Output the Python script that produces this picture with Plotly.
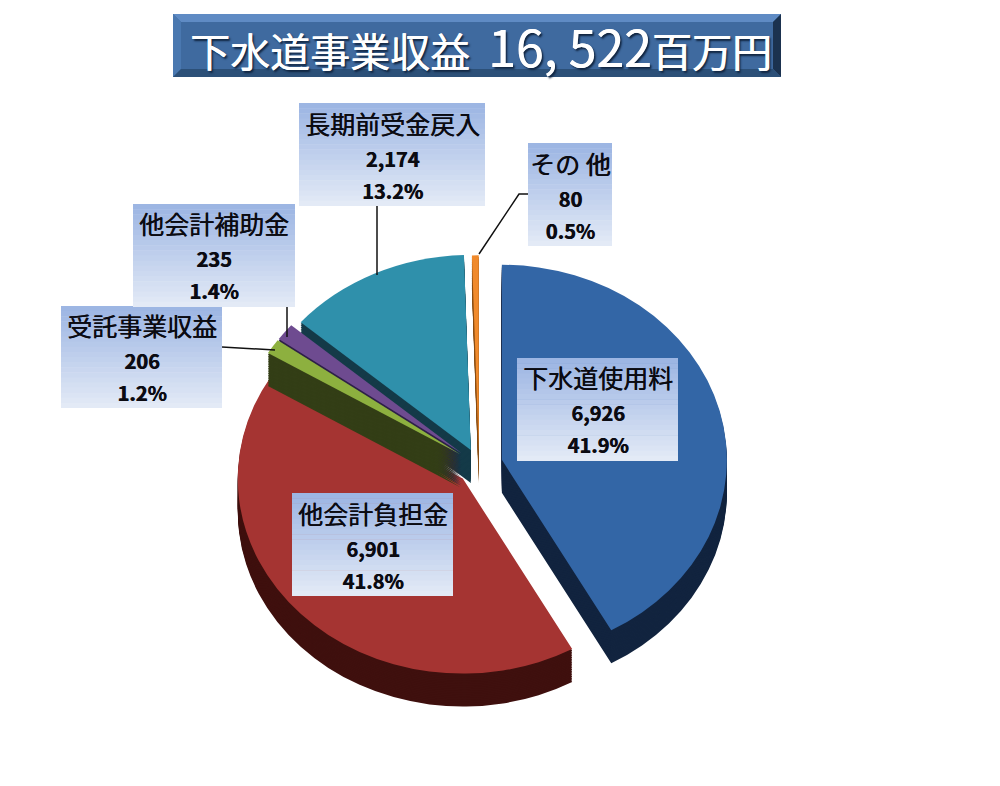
import plotly.graph_objects as go

# datos
nombres = ['下水道使用料', '他会計負担金', '受託事業収益', '他会計補助金', '長期前受金戻入', 'その 他']
valores = [6926, 6901, 206, 235, 2174, 80]
etiquetas_valor = ['6,926', '6,901', '206', '235', '2,174', '80']
porcentajes = ['41.9%', '41.8%', '1.2%', '1.4%', '13.2%', '0.5%']
titulo = '下水道事業収益\u00a0\u00a0<span style="font-size:50px">16, 522</span>百万円'

# estilo
colores = ['#3366A6', '#A53432', '#8DB03F', '#6E4B90', '#2F90AB', '#F08A2C']
colores_lado = ['#12243F', '#3F100E', '#333E16', '#2E2048', '#143A48', '#8A4F16']
pull = [0.105, 0.10, 0.10, 0.10, 0.085, 0.075]
orden = [1, 4, 3, 2, 5, 0]  # de atras hacia adelante
cajas = [(517, 358, 678, 461), (292, 493, 453, 596), (61, 306, 222, 408),
         (133, 204, 295, 307), (299, 103, 485, 206), (528, 143, 612, 246)]
lineas = [[(222, 347), (275, 350)], [(287, 307), (287, 337)], [(377, 206), (377, 275)],
          [(528, 194), (519, 194), (479, 254)]]
bisel = [([(173, 14), (781, 14), (773, 22), (181, 22)], '#5F8BC4'),
         ([(173, 14), (181, 22), (181, 69), (173, 77)], '#4A78B0'),
         ([(781, 14), (781, 77), (773, 69), (773, 22)], '#1B324F'),
         ([(173, 77), (781, 77), (773, 69), (181, 69)], '#2C5078')]

W, H = 1000, 786
CX, CY, R = 479, 465, 225
ESCALA_Y = 0.867
FUENTE = 'Noto Sans CJK JP'


def px(x):
    return x / W


def py(y):
    return 1 - y / H


def ruta(puntos, cerrar=False):
    texto = 'M ' + ' L '.join('%.4f %.4f' % (px(a), py(b)) for a, b in puntos)
    return texto + ' Z' if cerrar else texto


def mezcla(c1, c2, t):
    a = [int(c1[i:i + 2], 16) for i in (1, 3, 5)]
    b = [int(c2[i:i + 2], 16) for i in (1, 3, 5)]
    return 'rgb(%d,%d,%d)' % tuple(a[i] + (b[i] - a[i]) * t for i in range(3))


def rect(x0, y0, x1, y1, color):
    return dict(type='rect', xref='paper', yref='paper', x0=px(x0), x1=px(x1), y0=py(y0), y1=py(y1),
                fillcolor=color, line=dict(width=0))


fig = go.Figure()

# Una pie por rebanada y por capa para simular el volumen
mitad = R * (1 + max(pull))
for i in orden:
    for prof in list(range(38, 0, -2)) + [0]:
        color = colores[i] if prof == 0 else colores_lado[i]
        fig.add_trace(go.Pie(
            labels=nombres,
            values=valores,
            sort=False,
            direction='clockwise',
            rotation=0,
            pull=pull,
            textinfo='none',
            hoverinfo='skip',
            showlegend=False,
            marker=dict(colors=[color if j == i else 'rgba(0,0,0,0)' for j in range(len(valores))],
                        line=dict(width=0)),
            domain=dict(x=[px(CX - mitad), px(CX + mitad)],
                        y=[py(CY + prof + mitad), py(CY + prof - mitad)])
        ))

shapes = []

# Barra del titulo
shapes.append(rect(173, 14, 781, 77, '#3F6A9F'))
for puntos, color in bisel:
    shapes.append(dict(type='path', xref='paper', yref='paper', path=ruta(puntos, True),
                       fillcolor=color, line=dict(width=0)))

# Lineas guia
for linea in lineas:
    shapes.append(dict(type='path', xref='paper', yref='paper', path=ruta(linea),
                       line=dict(color='#111111', width=1.5)))

# Cajas con degradado
bandas = 20
for x0, y0, x1, y1 in cajas:
    alto = (y1 - y0) / bandas
    for b in range(bandas):
        shapes.append(rect(x0, y0 + b * alto, x1, min(y0 + (b + 1) * alto + 0.5, y1),
                           mezcla('#9DB6E3', '#E3EAF6', b / (bandas - 1))))

anotaciones = [dict(
    x=px(481), y=py(45), xref='paper', yref='paper', text=titulo, showarrow=False,
    xanchor='center', yanchor='middle',
    font=dict(family=FUENTE, size=40, color='white', shadow='0.6px 0 0 white, 2px 2px 2px #10243f')
)]
for i, (x0, y0, x1, y1) in enumerate(cajas):
    texto = (nombres[i] + '<br><span style="font-size:20px"><b>' + etiquetas_valor[i] + '</b></span>'
             + '<br><span style="font-size:20px"><b>' + porcentajes[i] + '</b></span>')
    anotaciones.append(dict(
        x=px((x0 + x1) / 2), y=py((y0 + y1) / 2), xref='paper', yref='paper', text=texto,
        showarrow=False, align='center', xanchor='center', yanchor='middle',
        font=dict(family=FUENTE, size=25, color='#0b0b12', shadow='0.6px 0 0 #0b0b12')
    ))

fig.update_layout(
    width=W, height=H,
    margin=dict(l=0, r=0, t=0, b=0),
    paper_bgcolor='white',
    shapes=shapes,
    annotations=anotaciones
)

# El pie de plotly es circular: se aplana un poco en vertical
post = """
document.body.style.margin = '0';
document.querySelector('.pielayer').setAttribute('transform', 'translate(0, %.2f) scale(1, %.3f)');
""" % (CY * (1 - ESCALA_Y), ESCALA_Y)

fig.write_html("out.html", post_script=post, config=dict(displayModeBar=False))
